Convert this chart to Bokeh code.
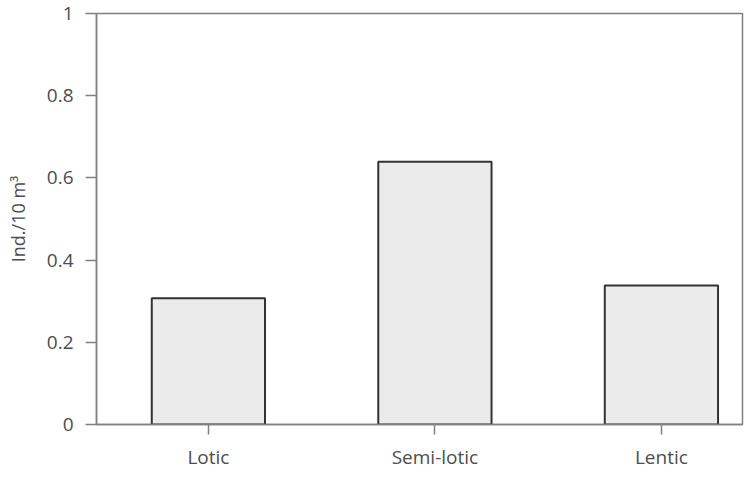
from bokeh.plotting import figure
from bokeh.models import Range1d, FixedTicker, CustomJSTickFormatter, ColumnDataSource
from bokeh.embed import file_html
from bokeh.resources import INLINE

categories = ["Lotic", "Semi-lotic", "Lentic"]
values = [0.307, 0.639, 0.338]
y_ticks = [0, 0.2, 0.4, 0.6, 0.8, 1.0]
y_title = "Ind./10 m³"

positions = list(range(len(categories)))
src = ColumnDataSource(dict(x=positions, top=values))

FONT = "Open Sans"
GRAY = "#808080"
TEXT = "#4d4d4d"

p = figure(width=749, height=480, output_backend="svg", toolbar_location=None,
           x_range=Range1d(-0.494, 2.358), y_range=Range1d(0, 1))
p.min_border_left = 96
p.min_border_right = 7
p.min_border_top = 13
p.min_border_bottom = 56
p.background_fill_color = "white"
p.border_fill_color = "white"
p.outline_line_color = GRAY
p.outline_line_width = 1.5
p.xgrid.visible = False
p.ygrid.visible = False

p.vbar(x="x", top="top", bottom=0, width=0.5, source=src,
       fill_color="#ebebeb", line_color="#333333", line_width=2)

# x axis
p.xaxis.ticker = FixedTicker(ticks=positions)
p.xaxis.major_label_overrides = {i: c for i, c in enumerate(categories)}
p.xaxis.minor_tick_line_color = None
p.xaxis.major_tick_in = 0
p.xaxis.major_tick_out = 10
p.xaxis.axis_line_color = GRAY
p.xaxis.axis_line_width = 1.5
p.xaxis.major_tick_line_color = GRAY
p.xaxis.major_tick_line_width = 1.5
p.xaxis.major_label_text_font = FONT
p.xaxis.major_label_text_font_size = "19px"
p.xaxis.major_label_text_color = TEXT
p.xaxis.major_label_standoff = 9

# y axis
p.yaxis.ticker = FixedTicker(ticks=y_ticks)
p.yaxis.formatter = CustomJSTickFormatter(code="return tick.toFixed(1).replace(/\\.0$/, '');")
p.yaxis.minor_tick_line_color = None
p.yaxis.major_tick_in = 0
p.yaxis.major_tick_out = 11
p.yaxis.axis_line_color = GRAY
p.yaxis.axis_line_width = 1.5
p.yaxis.major_tick_line_color = GRAY
p.yaxis.major_tick_line_width = 1.5
p.yaxis.major_label_text_font = FONT
p.yaxis.major_label_text_font_size = "19px"
p.yaxis.major_label_text_color = TEXT
p.yaxis.major_label_standoff = 12
p.yaxis.axis_label = y_title
p.yaxis.axis_label_text_font = FONT
p.yaxis.axis_label_text_font_size = "18px"
p.yaxis.axis_label_text_font_style = "normal"
p.yaxis.axis_label_text_color = TEXT
p.yaxis.axis_label_standoff = 14

open("out.html", "w").write(file_html(p, INLINE))
